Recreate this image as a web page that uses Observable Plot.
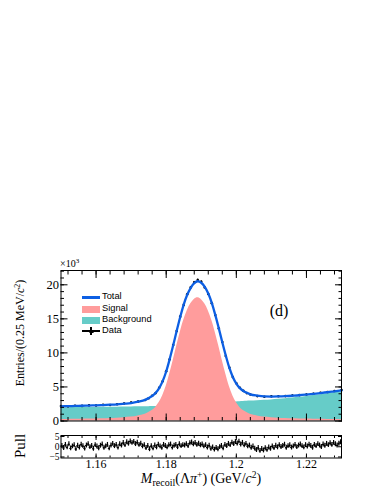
<!DOCTYPE html>
<html><head><meta charset="utf-8">
<script src="https://cdn.jsdelivr.net/npm/d3@7"></script>
<script src="https://cdn.jsdelivr.net/npm/@observablehq/plot@0.6"></script>
<style>
html,body{margin:0;padding:0;background:#fff;}
#wrap{position:relative;width:388px;height:502px;overflow:hidden;background:#fff;}
#wrap svg{position:absolute;left:0;}
#wrap svg text{font-family:"Liberation Serif","Times New Roman",serif !important;}
.ov{position:absolute;font-family:"Liberation Serif","Times New Roman",serif;color:#000;white-space:nowrap;line-height:1;}
.leg{position:absolute;font-family:"Liberation Sans",Arial,sans-serif;font-size:9.3px;color:#000;white-space:nowrap;line-height:1;}
</style></head>
<body><div id="wrap"></div>
<script>
// ---- data (values in units of 10^3 entries) ----
const mass = [1.150,1.152,1.154,1.156,1.158,1.160,1.162,1.164,1.166,1.168,1.170,1.172,1.174,1.175,1.176,1.177,1.178,1.179,1.180,1.181,1.182,1.183,1.184,1.185,1.186,1.187,1.188,1.189,1.190,1.191,1.192,1.193,1.194,1.195,1.196,1.197,1.198,1.199,1.200,1.201,1.202,1.203,1.204,1.206,1.208,1.210,1.212,1.214,1.216,1.218,1.220,1.222,1.224,1.226,1.228,1.230];
const signal = [0.21,0.22,0.24,0.26,0.28,0.30,0.33,0.37,0.42,0.49,0.58,0.75,1.00,1.25,1.55,2.00,2.70,3.70,5.10,6.90,8.90,11.0,13.0,14.8,16.2,17.2,17.85,18.1,17.85,17.2,16.2,14.8,13.0,11.0,8.90,6.90,5.10,3.70,2.70,2.00,1.55,1.25,1.00,0.75,0.58,0.49,0.42,0.37,0.33,0.30,0.28,0.26,0.24,0.22,0.21,0.20];
const background = [1.95,1.96,1.97,1.98,1.99,2.00,2.01,2.02,2.03,2.05,2.06,2.08,2.10,2.11,2.12,2.13,2.14,2.15,2.17,2.19,2.21,2.24,2.27,2.30,2.33,2.36,2.39,2.42,2.45,2.49,2.52,2.56,2.59,2.62,2.66,2.70,2.73,2.77,2.80,2.83,2.86,2.89,2.92,2.97,3.03,3.10,3.19,3.28,3.38,3.48,3.60,3.73,3.86,4.00,4.15,4.30];
const total = [2.16,2.18,2.21,2.24,2.27,2.30,2.34,2.39,2.45,2.54,2.64,2.83,3.10,3.36,3.67,4.13,4.84,5.85,7.27,9.09,11.11,13.24,15.27,17.10,18.53,19.56,20.24,20.52,20.30,19.69,18.72,17.36,15.59,13.62,11.56,9.60,7.83,6.47,5.50,4.83,4.41,4.14,3.92,3.72,3.61,3.59,3.61,3.65,3.71,3.78,3.88,3.99,4.10,4.22,4.36,4.50];
const dataVals = [2.19,2.15,2.24,2.22,2.30,2.28,2.37,2.36,2.47,2.58,2.72,2.86,3.08,3.33,3.70,4.10,4.88,5.83,7.30,9.05,11.15,13.20,15.32,17.05,18.60,19.62,20.35,20.70,20.45,19.60,18.65,17.30,15.55,13.58,11.60,9.55,7.86,6.45,5.55,4.88,4.43,4.10,3.90,3.66,3.55,3.62,3.63,3.66,3.74,3.80,3.90,4.01,4.14,4.25,4.40,4.55];
const pullVals = [
 0.4,-0.6,0.9,-0.3,1.2,-0.8,0.2,0.7,-1.1,0.5,
 -0.4,1.0,0.3,-0.9,0.6,1.3,-0.2,0.4,-1.0,0.8,
 0.1,-0.7,0.5,1.1,-0.5,0.2,0.9,-0.8,0.6,1.4,
 0.3,0.9,-0.4,1.2,0.6,1.8,0.8,2.2,1.5,2.6,
 1.9,2.4,1.3,2.0,0.9,1.5,0.2,0.8,-0.6,0.4,
 -1.2,0.3,-0.8,0.6,-0.3,1.0,0.2,-0.5,0.9,0.4,
 -0.3,0.7,1.1,-0.4,0.5,0.9,-0.2,1.2,0.3,0.8,
 0.6,1.3,0.4,1.7,2.1,1.2,1.8,0.9,1.5,0.7,
 1.1,0.2,0.8,-0.4,0.5,-1.0,-0.3,-1.4,-0.6,-1.2,
 -0.2,0.4,-0.7,0.9,0.3,1.4,0.8,2.0,1.3,2.3,
 1.6,2.5,1.1,1.9,0.7,1.4,0.2,0.6,-0.5,0.1,
 -0.9,-1.6,-0.6,-2.0,-1.1,-1.8,-0.7,-1.5,-0.4,-1.0,
 0.2,-0.6,0.5,-0.3,0.8,-0.1,0.4,1.0,-0.5,0.3,
 0.7,-0.4,0.2,0.9,-0.2,0.6,1.1,0.3,-0.3,0.8,
 0.1,1.0,0.4,-0.5,0.9,0.3,1.3,0.6,-0.1,1.1,
 0.5,1.4,0.8,1.7,0.9,1.9,1.2,0.6,1.5,2.2];
const xTickLabels = [1.16,1.18,1.20,1.22];
const yMajor = [0,5,10,15,20];
const pullTicks = [-5,0,5];

// ---- derived tables ----
const rows = mass.map((m,i)=>({m, s:signal[i], b:background[i], t:total[i], d:dataVals[i], e:Math.sqrt(dataVals[i]*1000)/1000}));
const pullRows = pullVals.map((p,i)=>({m:1.15025+0.0005*i, p}));
const xMinor = d3.range(0,20).map(i=>+(1.152+0.004*i).toFixed(3));
const yMinor = d3.range(0,23);

const X = {domain:[1.15,1.23]};
const ML = 60.5, MR = 47;
const serif = 'Liberation Serif';

const main = Plot.plot({
  width:388, height:430, marginTop:270, marginBottom:9.5, marginLeft:ML, marginRight:MR,
  x:X, y:{domain:[0,22.1]},
  style:{background:"transparent", fontFamily:serif, color:"#000", overflow:"visible"},
  marks:[
    Plot.areaY(rows,{x:"m", y:"b", fill:"#66ccc8", curve:"monotone-x"}),
    Plot.areaY(rows,{x:"m", y:"s", fill:"#ff9c9c", curve:"monotone-x"}),
    Plot.ruleX(rows,{x:"m", y1:d=>d.d-d.e, y2:d=>d.d+d.e, stroke:"#000", strokeWidth:1}),
    Plot.dot(rows,{x:"m", y:"d", r:1.3, fill:"#000"}),
    Plot.line(rows,{x:"m", y:"t", stroke:"#0d5fe3", strokeWidth:2.3, curve:"monotone-x"}),
    Plot.frame({stroke:"#000", strokeWidth:1}),
    Plot.axisY(yMajor,{anchor:"left", tickSize:-7, fill:"none", label:null}),
    Plot.axisY(yMinor,{anchor:"left", tickSize:-3.5, fill:"none", label:null}),
    Plot.axisY(yMajor,{anchor:"right", tickSize:-7, fill:"none", label:null}),
    Plot.axisY(yMinor,{anchor:"right", tickSize:-3.5, fill:"none", label:null}),
    Plot.axisY(yMajor,{anchor:"left", tickSize:0, tickPadding:2, fontSize:12.5, fontFamily:serif, label:null}),
    Plot.axisX(xTickLabels,{anchor:"bottom", tickSize:-7, fill:"none", label:null}),
    Plot.axisX(xMinor,{anchor:"bottom", tickSize:-3.5, fill:"none", label:null}),
    Plot.axisX(xTickLabels,{anchor:"top", tickSize:-7, fill:"none", label:null}),
    Plot.axisX(xMinor,{anchor:"top", tickSize:-3.5, fill:"none", label:null})
  ]
});
main.style.top = "0px";

const pull = Plot.plot({
  width:388, height:72, marginTop:5, marginBottom:44.5, marginLeft:ML, marginRight:MR,
  x:X, y:{domain:[-5.5,5.5]},
  style:{background:"transparent", fontFamily:serif, color:"#000", overflow:"visible"},
  marks:[
    Plot.ruleX(pullRows,{x:"m", y1:d=>d.p-1.2, y2:d=>d.p+1.2, stroke:"#000", strokeWidth:1.2}),
    Plot.ruleY(pullRows,{y:"p", x1:d=>d.m-0.00025, x2:d=>d.m+0.00025, stroke:"#000", strokeWidth:1}),
    Plot.dot(pullRows,{x:"m", y:"p", r:0.9, fill:"#000"}),
    Plot.frame({stroke:"#000", strokeWidth:1}),
    Plot.axisY(pullTicks,{anchor:"left", tickSize:-4, fill:"none", label:null}),
    Plot.axisY(pullTicks,{anchor:"right", tickSize:-4, fill:"none", label:null}),
    Plot.axisY(pullTicks,{anchor:"left", tickSize:0, tickPadding:1.5, fontSize:9.5, fontFamily:serif, label:null}),
    Plot.axisX(xTickLabels,{anchor:"bottom", tickSize:-4, fill:"none", label:null}),
    Plot.axisX(xMinor,{anchor:"bottom", tickSize:-2, fill:"none", label:null}),
    Plot.axisX(xTickLabels,{anchor:"top", tickSize:-4, fill:"none", label:null}),
    Plot.axisX(xMinor,{anchor:"top", tickSize:-2, fill:"none", label:null}),
    Plot.axisX(xTickLabels,{anchor:"bottom", tickSize:0, tickPadding:1, fontSize:12, fontFamily:serif, label:null,
      tickFormat:d=>String(+d.toFixed(2))})
  ]
});
pull.style.top = "430px";

const wrap = document.getElementById("wrap");
wrap.appendChild(main);
wrap.appendChild(pull);

function ov(html, css, cls="ov"){
  const d = document.createElement("div");
  d.className = cls; d.innerHTML = html; d.style.cssText += css;
  wrap.appendChild(d); return d;
}
// exponent
ov('×10<sup style="font-size:7px;vertical-align:4px;line-height:0">3</sup>', "left:60px;top:259px;font-size:10px;");
// (d)
ov('(d)', "left:279px;top:311px;font-size:16px;transform:translate(-50%,-50%);");
// y title
ov('Entries/(0.25 MeV/<i>c</i><sup style="font-size:8px;vertical-align:4px;line-height:0">2</sup>)', "left:20px;top:333px;font-size:12px;transform:translate(-50%,-50%) rotate(-90deg);");
// Pull title
ov('Pull', "left:20px;top:446px;font-size:15px;transform:translate(-50%,-50%) rotate(-90deg);");
// x title
ov('<i>M</i><sub style="font-size:10px;vertical-align:-3px;line-height:0">recoil</sub>(Λ<i>π</i><sup style="font-size:9.5px;vertical-align:5px;line-height:0">+</sup>) (GeV/<i>c</i><sup style="font-size:9.5px;vertical-align:5px;line-height:0">2</sup>)', "left:201px;top:478.5px;font-size:14px;transform:translate(-50%,-50%);");

// legend
const lx = 82, tx = 102;
const sw = (y, html) => ov(html, `left:${lx}px;top:${y}px;width:18px;height:8px;transform:translateY(-50%);`, "leg");
sw(297, '<div style="position:absolute;left:0;top:3px;width:18px;height:2.5px;background:#0d5fe3"></div>');
sw(309, '<div style="position:absolute;left:0;top:0.5px;width:17.5px;height:7px;background:#ff9c9c"></div>');
sw(320.3, '<div style="position:absolute;left:0;top:0.5px;width:17.5px;height:7px;background:#66ccc8"></div>');
sw(331.3, '<div style="position:absolute;left:0;top:3px;width:18px;height:2px;background:#000"></div><div style="position:absolute;left:8px;top:0;width:2px;height:8px;background:#000"></div><div style="position:absolute;left:6.5px;top:2.5px;width:5px;height:3px;border-radius:2px;background:#000"></div>');
const lt = (y, t) => ov(t, `left:${tx}px;top:${y}px;transform:translateY(-50%);`, "leg");
lt(297, "Total"); lt(309, "Signal"); lt(320.3, "Background"); lt(331.3, "Data");
</script></body></html>
